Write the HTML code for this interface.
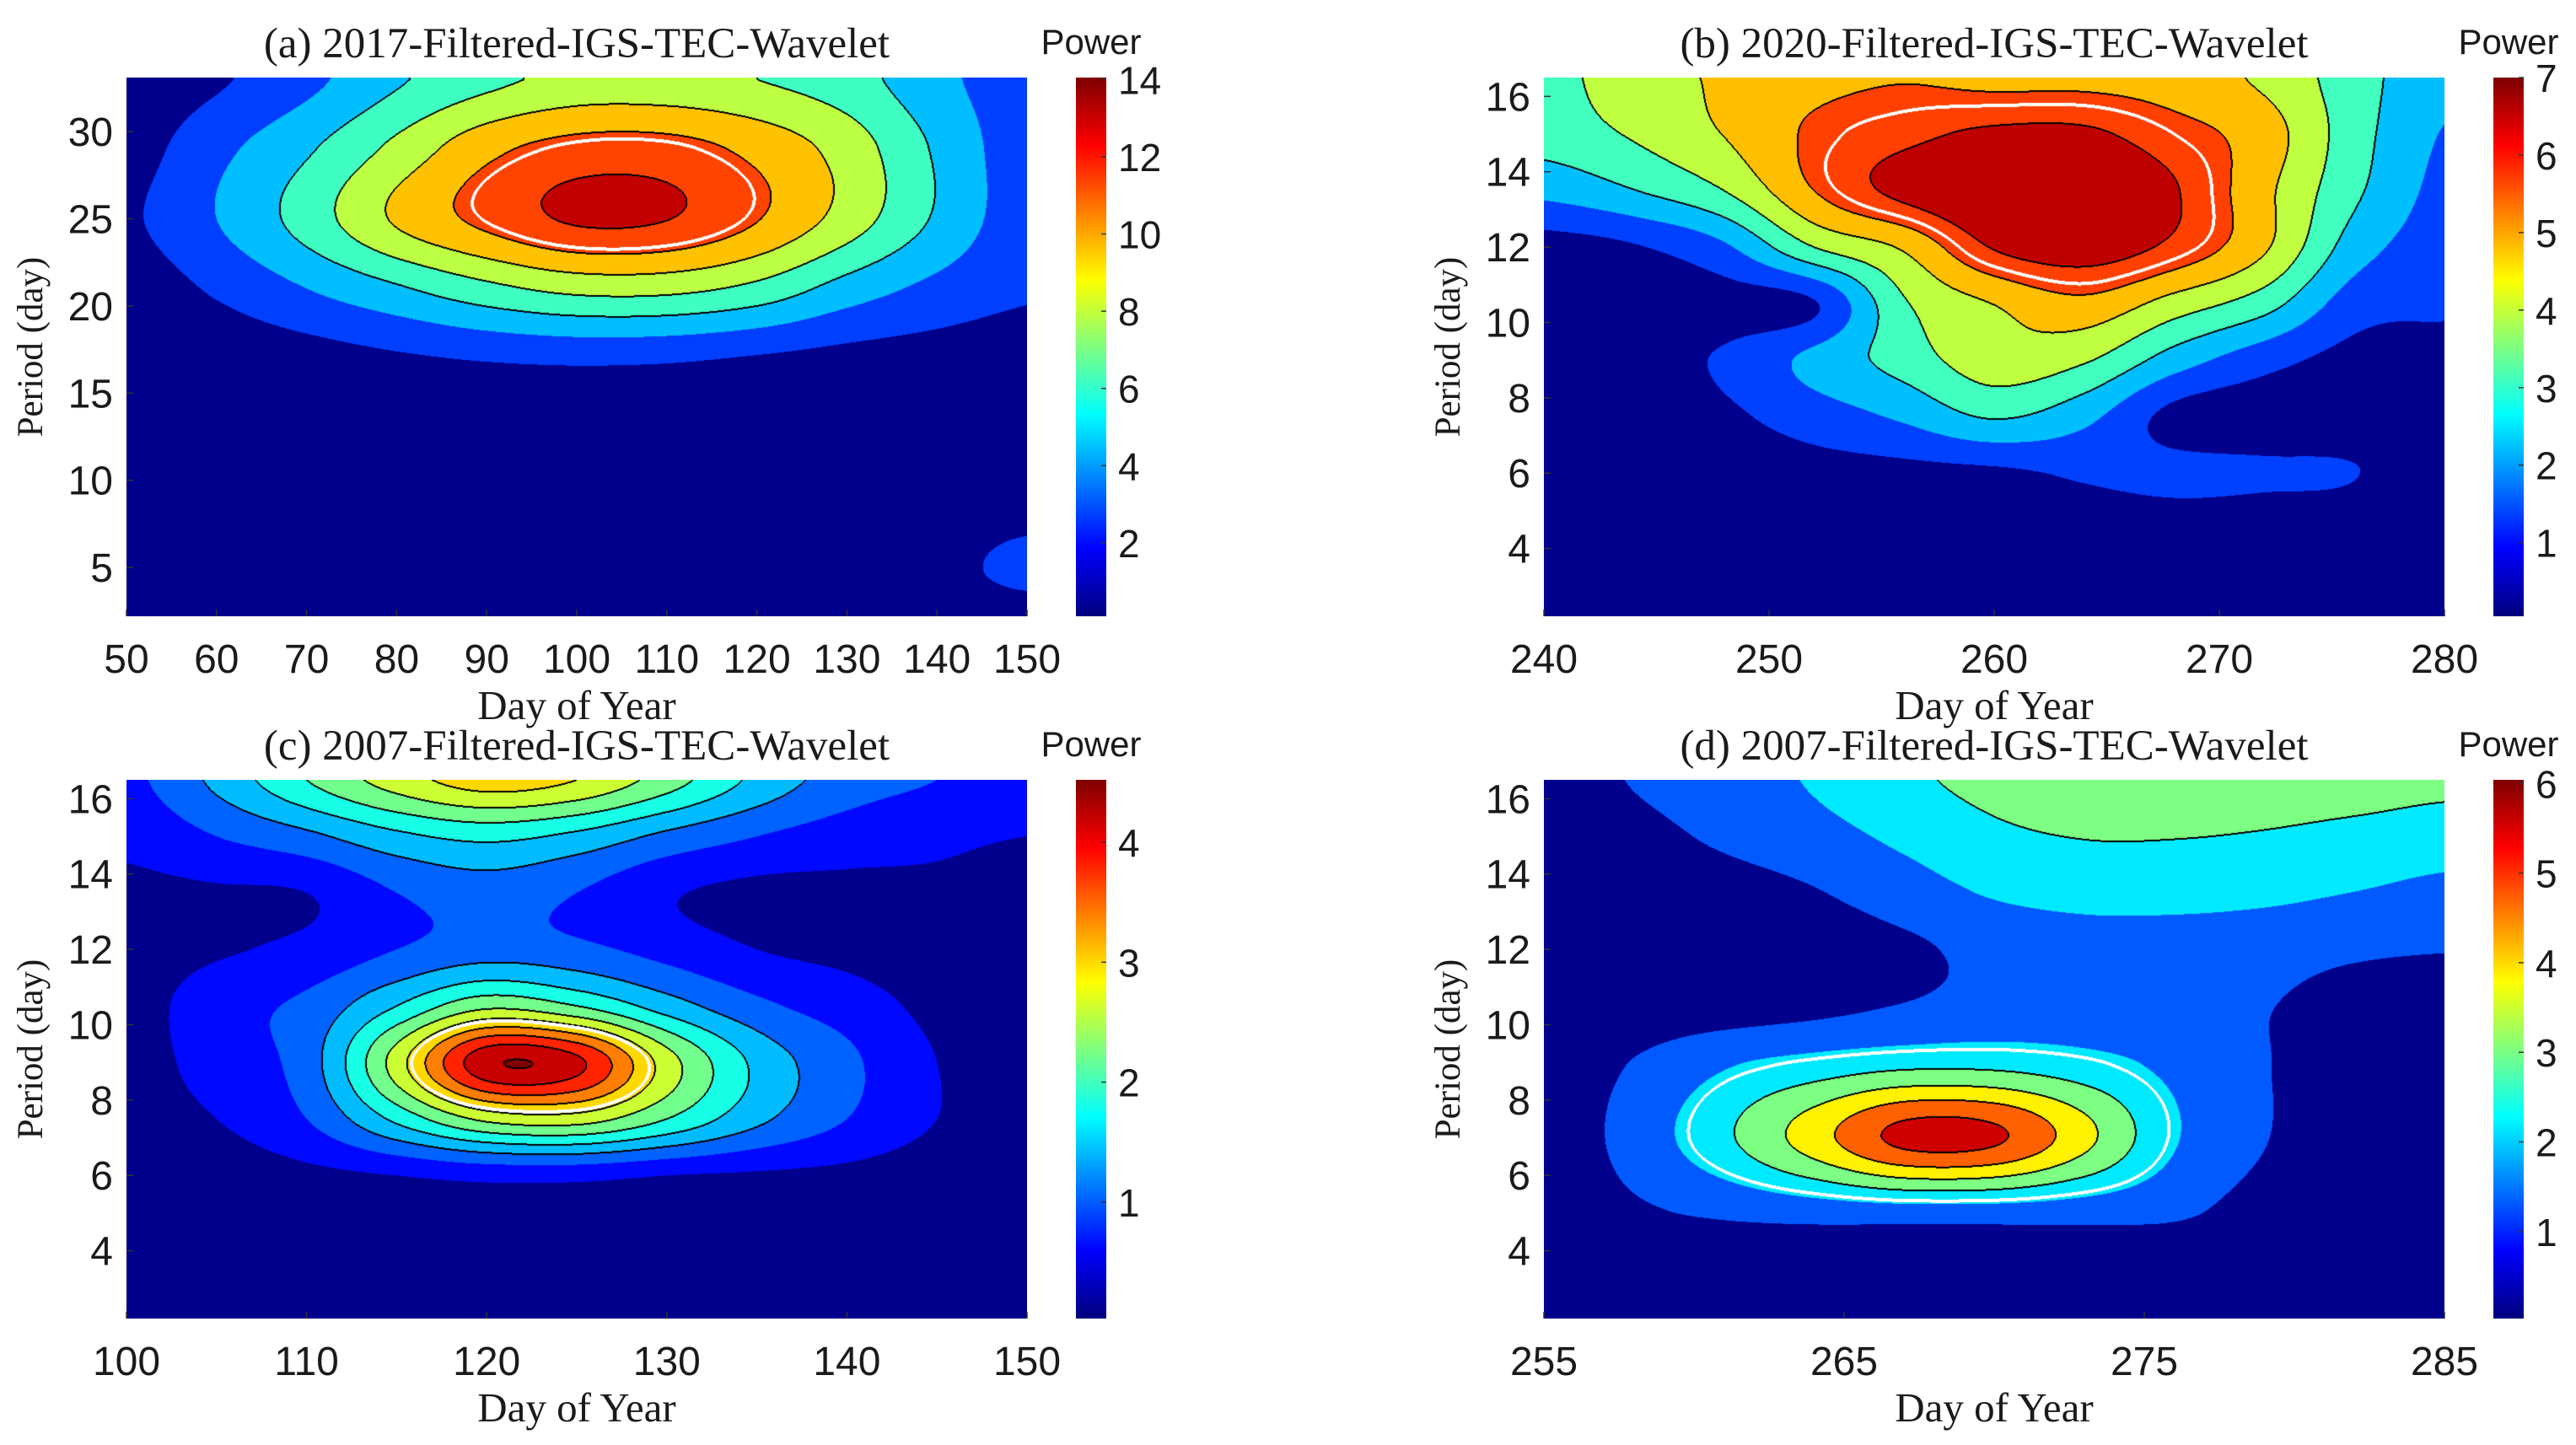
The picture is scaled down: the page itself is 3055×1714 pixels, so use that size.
<!DOCTYPE html>
<html><head><meta charset="utf-8">
<style>
html,body{margin:0;padding:0;background:#fff;}
#root{position:relative;width:3055px;height:1714px;overflow:hidden;background:#fff;}
canvas{position:absolute;}
svg{position:absolute;left:0;top:0;}
.serif{font-family:"Liberation Serif",serif;}
.sans{font-family:"Liberation Sans",sans-serif;}
</style></head>
<body>
<div id="root">
<svg id="ov" width="3055" height="1714"></svg>
</div>
<script>
// ---------- Panel (a) data ----------
const aDays=[50,60,70,80,90,100,110,120,130,140,150];
const aPeriods=[33,29,25,21,17,13,9,5,2];
const aPower=[
[0.5,1.5,3.0,5.0,6.5,7.5,7.5,7.0,6.0,4.0,2.5],
[1.0,3.0,5.0,7.5,10.0,11.2,11.2,10.0,8.0,5.0,2.5],
[1.5,3.5,6.0,9.0,11.0,12.5,12.3,10.6,8.0,5.0,2.5],
[0.8,2.0,3.5,5.0,6.5,7.5,7.5,6.5,4.5,3.0,2.0],
[0.3,0.6,1.0,1.5,1.9,2.1,2.0,1.6,1.2,1.0,0.8],
[0.3,0.3,0.3,0.3,0.3,0.3,0.3,0.3,0.3,0.3,0.3],
[0.3,0.3,0.3,0.3,0.3,0.3,0.3,0.3,0.3,0.3,0.3],
[0.3,0.3,0.3,0.3,0.3,0.3,0.3,0.3,0.3,0.8,2.6],
[0.3,0.3,0.3,0.3,0.3,0.3,0.3,0.3,0.3,0.3,0.3]];
const aXTicks=[50,60,70,80,90,100,110,120,130,140,150];
const aYTicks=[5,10,15,20,25,30];
const aCbTicks=[2,4,6,8,10,12,14];
// ---------- Panel (b) data ----------
const bDays=[240,244,248,252,256,260,264,268,272,276,280];
const bPeriods=[16.5,15,13.5,12,10.5,9,7.5,6,4,2.2];
const bPower=[
[3.2,4.0,4.5,5.0,5.2,5.0,5.0,4.8,4.2,3.0,2.0],
[3.0,3.6,4.4,5.4,5.9,6.3,6.3,5.6,4.8,3.0,1.7],
[2.0,2.6,3.5,5.25,6.4,7.0,7.0,6.2,4.6,2.8,1.5],
[0.5,0.8,1.6,3.5,4.5,6.2,6.6,5.9,4.5,2.2,1.3],
[0.3,0.4,0.5,0.8,3.4,4.4,5.0,4.0,3.0,1.3,1.0],
[0.3,0.5,1.0,2.0,3.0,4.0,3.6,2.2,1.2,0.6,0.6],
[0.3,0.3,0.7,1.3,1.9,2.7,2.0,0.6,0.4,0.4,0.4],
[0.3,0.3,0.3,0.5,0.6,0.7,1.0,1.1,1.0,0.9,0.3],
[0.2,0.2,0.2,0.2,0.2,0.2,0.2,0.2,0.2,0.2,0.2],
[0.2,0.2,0.2,0.2,0.2,0.2,0.2,0.2,0.2,0.2,0.2]];
const bXTicks=[240,250,260,270,280];
const bYTicks=[4,6,8,10,12,14,16];
const bCbTicks=[1,2,3,4,5,6,7];
// ---------- Panel (c) data ----------
const cDays=[100,105,110,115,120,125,130,135,140,145,150];
const cPeriods=[16.5,15,13.5,12,10.5,9,7.5,6,4,2.2];
const cPower=[
[0.7,1.3,2.0,2.6,3.0,2.8,2.2,1.5,1.0,0.8,0.7],
[0.5,0.8,1.1,1.5,1.7,1.5,1.1,0.8,0.6,0.5,0.4],
[0.3,0.35,0.4,0.8,1.0,0.8,0.45,0.3,0.3,0.3,0.2],
[0.2,0.35,0.5,0.8,1.0,0.9,0.65,0.4,0.3,0.2,0.2],
[0.2,0.65,0.9,1.6,2.3,2.0,1.4,0.9,0.6,0.3,0.2],
[0.2,0.6,1.0,2.6,4.3,4.1,2.6,1.5,0.9,0.4,0.2],
[0.2,0.4,0.8,1.7,2.5,2.6,2.0,1.3,0.8,0.4,0.2],
[0.1,0.2,0.3,0.4,0.5,0.5,0.4,0.35,0.3,0.2,0.1],
[0.1,0.1,0.1,0.1,0.1,0.1,0.1,0.1,0.1,0.1,0.1],
[0.1,0.1,0.1,0.1,0.1,0.1,0.1,0.1,0.1,0.1,0.1]];
const cXTicks=[100,110,120,130,140,150];
const cYTicks=[4,6,8,10,12,14,16];
const cCbTicks=[1,2,3,4];
// ---------- Panel (d) data ----------
const dDays=[255,258,261,264,267,270,273,276,279,282,285];
const dPeriods=[16.5,15,13.5,12,10.5,9,7,5,3.5,2.2];
const dPower=[
[0.5,0.9,1.3,1.8,2.4,2.8,3.0,3.1,3.1,3.0,2.8],
[0.3,0.6,1.0,1.4,1.9,2.4,2.6,2.6,2.5,2.3,2.1],
[0.2,0.3,0.5,0.8,1.3,1.8,2.0,2.0,1.9,1.7,1.5],
[0.2,0.2,0.3,0.4,0.7,1.1,1.3,1.3,1.2,1.0,0.9],
[0.2,0.3,0.4,0.6,0.9,1.2,1.2,1.1,0.9,0.5,0.3],
[0.3,0.9,1.6,2.0,2.3,2.3,2.0,1.5,0.9,0.4,0.3],
[0.3,1.2,2.4,3.9,5.4,5.3,3.7,1.8,0.9,0.3,0.3],
[0.2,0.7,1.0,1.2,1.3,1.3,1.2,1.0,0.5,0.2,0.2],
[0.1,0.1,0.1,0.1,0.1,0.1,0.1,0.1,0.1,0.1,0.1],
[0.1,0.1,0.1,0.1,0.1,0.1,0.1,0.1,0.1,0.1,0.1]];
const dXTicks=[255,265,275,285];
const dYTicks=[4,6,8,10,12,14,16];
const dCbTicks=[1,2,3,4,5,6];

const panels=[
 {id:'a',title:'(a) 2017-Filtered-IGS-TEC-Wavelet',days:aDays,periods:aPeriods,power:aPower,xt:aXTicks,yt:aYTicks,cbt:aCbTicks,
  x0:150,y0:92,w:1068,h:639,cbx:1276,xmin:50,xmax:150,pmin:2.2,pmax:33.1,cmin:0.1,cmax:14.05,step:1.75,white:10.9,wpmax:40},
 {id:'b',title:'(b) 2020-Filtered-IGS-TEC-Wavelet',days:bDays,periods:bPeriods,power:bPower,xt:bXTicks,yt:bYTicks,cbt:bCbTicks,
  x0:1831,y0:92,w:1068,h:639,cbx:2957,xmin:240,xmax:280,pmin:2.2,pmax:16.5,cmin:0.05,cmax:7.0,step:0.875,white:5.6,wpmax:40},
 {id:'c',title:'(c) 2007-Filtered-IGS-TEC-Wavelet',days:cDays,periods:cPeriods,power:cPower,xt:cXTicks,yt:cYTicks,cbt:cCbTicks,
  x0:150,y0:925,w:1068,h:639,cbx:1276,xmin:100,xmax:150,pmin:2.2,pmax:16.5,cmin:0.03,cmax:4.52,step:0.4,white:2.9,wpmax:12},
 {id:'d',title:'(d) 2007-Filtered-IGS-TEC-Wavelet',days:dDays,periods:dPeriods,power:dPower,xt:dXTicks,yt:dYTicks,cbt:dCbTicks,
  x0:1831,y0:925,w:1068,h:639,cbx:2957,xmin:255,xmax:285,pmin:2.2,pmax:16.5,cmin:0.03,cmax:6.04,step:0.857,white:1.9,wpmax:10.5}
];

function clamp(v){return v<0?0:(v>1?1:v);}
function jet(t){return [clamp(1.5-Math.abs(4*t-3)),clamp(1.5-Math.abs(4*t-2)),clamp(1.5-Math.abs(4*t-1))];}
function cr(p0,p1,p2,p3,t){return 0.5*((2*p1)+(-p0+p2)*t+(2*p0-5*p1+4*p2-p3)*t*t+(-p0+3*p1-3*p2+p3)*t*t*t);}
function gridAt(G,r,c){const R=G.length,C=G[0].length;r=Math.max(0,Math.min(R-1,r));c=Math.max(0,Math.min(C-1,c));return G[r][c];}
function sample(G,fr,fc){
 const r=Math.floor(fr),c=Math.floor(fc),tr=fr-r,tc=fc-c;const rows=[];
 for(let i=-1;i<3;i++){rows.push(cr(gridAt(G,r+i,c-1),gridAt(G,r+i,c),gridAt(G,r+i,c+1),gridAt(G,r+i,c+2),tc));}
 return cr(rows[0],rows[1],rows[2],rows[3],tr);
}
const NS='http://www.w3.org/2000/svg';
const ov=document.getElementById('ov');
const root=document.getElementById('root');
function txt(x,y,s,size,cls,anchor,name,rot){
 const t=document.createElementNS(NS,'text');
 t.setAttribute('x',x);t.setAttribute('y',y);t.setAttribute('font-size',size);
 t.setAttribute('class',cls);t.setAttribute('text-anchor',anchor);t.setAttribute('fill','#1a1a1a');
 if(rot)t.setAttribute('transform','rotate(-90 '+x+' '+y+')');
 t.textContent=s;
 
 
 ov.appendChild(t);return t;
}
function line(x1,y1,x2,y2,col,w,name){
 const l=document.createElementNS(NS,'line');
 l.setAttribute('x1',x1);l.setAttribute('y1',y1);l.setAttribute('x2',x2);l.setAttribute('y2',y2);
 l.setAttribute('stroke',col);l.setAttribute('stroke-width',w);
 
 
 ov.appendChild(l);
}
function bandColor(k,P){
 if(k<=0) return [0,0,0.55];
 return jet(Math.min(1,(k+0.5)*P.step/P.cmax));
}

panels.forEach(P=>{
 const W=P.w,H=P.h;
 const kMax=Math.floor((P.cmax-1e-6)/P.step);
 const cv=document.createElement('canvas');
 cv.width=W;cv.height=H;cv.style.left=P.x0+'px';cv.style.top=P.y0+'px';
 
 
 root.insertBefore(cv,ov);
 const ctx=cv.getContext('2d');const img=ctx.createImageData(W,H);
 const V=new Float32Array(W*H);const B=new Int16Array(W*H);const PY=new Float32Array(H);
 const nC=P.days.length;
 const colIdx=new Float32Array(W);
 for(let x=0;x<W;x++){const d=P.xmin+(x+0.5)/W*(P.xmax-P.xmin);colIdx[x]=(d-P.days[0])/(P.days[nC-1]-P.days[0])*(nC-1);}
 for(let y=0;y<H;y++){
  const p=P.pmax-(y+0.5)/H*(P.pmax-P.pmin);PY[y]=p;
  let fr=P.periods.length-1;
  for(let i=0;i<P.periods.length-1;i++){if(p<=P.periods[i]&&p>=P.periods[i+1]){fr=i+(P.periods[i]-p)/(P.periods[i]-P.periods[i+1]);break;}}
  if(p>P.periods[0])fr=0;
  for(let x=0;x<W;x++){const v=sample(P.power,fr,colIdx[x]);V[y*W+x]=v;B[y*W+x]=Math.min(kMax,Math.max(0,Math.floor(v/P.step)));}
 }
 for(let y=0;y<H;y++)for(let x=0;x<W;x++){
  const i=y*W+x;const k=B[i];
  let col=bandColor(k,P);
  const kr=x<W-1?B[i+1]:k, kd=y<H-1?B[i+W]:k, kl=x>0?B[i-1]:k, ku=y>0?B[i-W]:k;
  const mx=Math.max(k,kr,kd,kl,ku), mn=Math.min(k,kr,kd,kl,ku);
  if(mx!==mn && mx>=3) col=[0,0,0];
  if(PY[y]<=P.wpmax){
   const s=V[i]>=P.white;
   let edge=false;
   for(const [dx,dy] of [[2,0],[-2,0],[0,2],[0,-2],[1,1],[-1,-1]]){
    const xx=x+dx,yy=y+dy;if(xx<0||yy<0||xx>=W||yy>=H)continue;
    if((V[yy*W+xx]>=P.white)!==s){edge=true;break;}
   }
   if(edge) col=[1,1,1];
  }
  img.data[i*4]=col[0]*255;img.data[i*4+1]=col[1]*255;img.data[i*4+2]=col[2]*255;img.data[i*4+3]=255;
 }
 ctx.putImageData(img,0,0);

 // colorbar
 const cb=document.createElement('canvas');
 cb.width=36;cb.height=H;cb.style.left=P.cbx+'px';cb.style.top=P.y0+'px';
 
 
 root.insertBefore(cb,ov);
 const c2=cb.getContext('2d');
 for(let y=0;y<H;y++){const c=jet(1-y/(H-1));c2.fillStyle='rgb('+Math.round(c[0]*255)+','+Math.round(c[1]*255)+','+Math.round(c[2]*255)+')';c2.fillRect(0,y,36,1);}

 const cx=P.x0+W/2;
 txt(cx,P.y0-24,P.title,51,'serif','middle','panel-title-'+P.id);
 txt(P.cbx+18,P.y0-28,'Power',42,'sans','middle','colorbar-title-'+P.id);
 txt(P.x0-100,P.y0+H/2,'Period (day)',43,'serif','middle','y-axis-title-'+P.id,true);
 txt(cx,P.y0+H+122,'Day of Year',49,'serif','middle','x-axis-title-'+P.id);
 const sx=d=>P.x0+(d-P.xmin)/(P.xmax-P.xmin)*W;
 const sy=p=>P.y0+(P.pmax-p)/(P.pmax-P.pmin)*H;
 const sc=v=>P.y0+(P.cmax-v)/(P.cmax-P.cmin)*H;
 P.xt.forEach(d=>{txt(sx(d),P.y0+H+67,String(d),48,'sans','middle','x-tick-label-'+P.id);line(sx(d),P.y0+H,sx(d),P.y0+H-8,'#333',1.5,'x-tick-'+P.id);});
 P.yt.forEach(p=>{txt(P.x0-16,sy(p)+17,String(p),48,'sans','end','y-tick-label-'+P.id);line(P.x0,sy(p),P.x0+8,sy(p),'#333',1.5,'y-tick-'+P.id);});
 P.cbt.forEach(v=>{txt(P.cbx+50,sc(v)+17,String(v),46,'sans','start','colorbar-tick-label-'+P.id);line(P.cbx+36,sc(v),P.cbx+30,sc(v),'#333',1.5,'colorbar-tick-'+P.id);});
});
</script>
</body></html>
